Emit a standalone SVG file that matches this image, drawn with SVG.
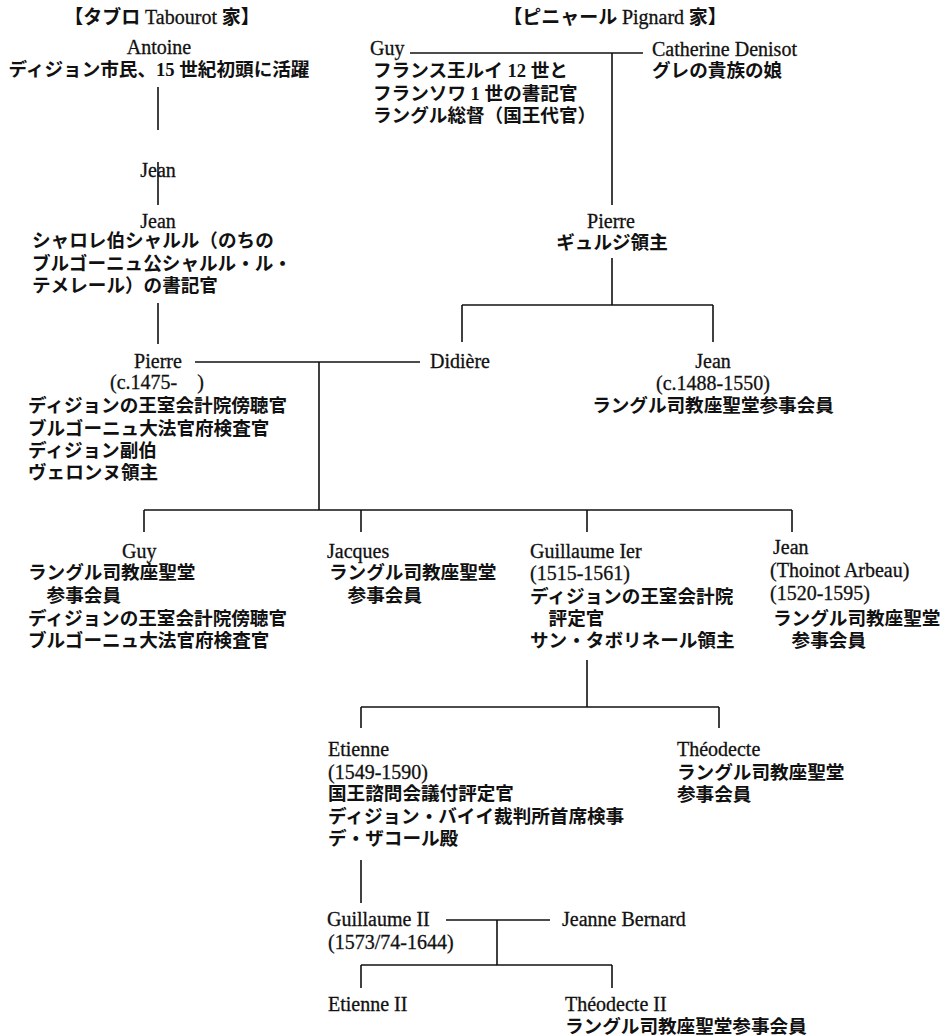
<svg xmlns="http://www.w3.org/2000/svg" width="946" height="1035" viewBox="0 0 946 1035">
<style>
text{fill:#111}
.l{font-family:"Liberation Serif","Noto Sans CJK JP",serif;font-size:20px;stroke:#111;stroke-width:0.3}
.j{font-family:"Liberation Serif","Noto Sans CJK JP",serif;font-size:18.6px;font-weight:bold}
.h{font-family:"Liberation Serif","Noto Sans CJK JP",serif;font-size:19px;font-weight:bold}
.c{text-anchor:middle}
#connectors line{stroke:#111;stroke-width:1.6;fill:none}
</style>
<rect width="946" height="1035" fill="#fff"/>
<g id="headers">
<text class="h c" x="162" y="24">【タブロ <tspan font-weight="normal" font-size="20" stroke="#111" stroke-width="0.3">Tabourot</tspan> 家】</text>
<text class="h c" x="615" y="24">【ピニャール <tspan font-weight="normal" font-size="20" stroke="#111" stroke-width="0.3">Pignard</tspan> 家】</text>
</g>
<g id="connectors">
<line x1="158" y1="87" x2="158" y2="130"/>
<line x1="158" y1="162" x2="158" y2="205"/>
<line x1="158" y1="303" x2="158" y2="344"/>
<line x1="410" y1="53" x2="643" y2="53"/>
<line x1="612" y1="53" x2="612" y2="205"/>
<line x1="612" y1="258" x2="612" y2="305"/>
<line x1="462" y1="305" x2="713" y2="305"/>
<line x1="462" y1="305" x2="462" y2="342"/>
<line x1="713" y1="305" x2="713" y2="342"/>
<line x1="195" y1="362" x2="420" y2="362"/>
<line x1="319" y1="362" x2="319" y2="510"/>
<line x1="144" y1="510" x2="792" y2="510"/>
<line x1="144" y1="510" x2="144" y2="532"/>
<line x1="361" y1="510" x2="361" y2="532"/>
<line x1="587" y1="510" x2="587" y2="532"/>
<line x1="792" y1="510" x2="792" y2="532"/>
<line x1="587" y1="660" x2="587" y2="707"/>
<line x1="361" y1="707" x2="719" y2="707"/>
<line x1="361" y1="707" x2="361" y2="728"/>
<line x1="719" y1="707" x2="719" y2="728"/>
<line x1="361" y1="860" x2="361" y2="903"/>
<line x1="446" y1="920" x2="550" y2="920"/>
<line x1="497" y1="920" x2="497" y2="965"/>
<line x1="361" y1="965" x2="612" y2="965"/>
<line x1="361" y1="965" x2="361" y2="988"/>
<line x1="612" y1="965" x2="612" y2="988"/>
</g>
<g id="antoine">
<text class="l c" x="159" y="54">Antoine</text>
<text class="j c" x="159" y="76">ディジョン市民、15 世紀初頭に活躍</text>
</g>
<g id="jean1">
<text class="l c" x="158" y="177">Jean</text>
</g>
<g id="jean2">
<text class="l c" x="158" y="228">Jean</text>
<text class="j" x="32" y="247">シャロレ伯シャルル（のちの</text>
<text class="j" x="32" y="270">ブルゴーニュ公シャルル・ル・</text>
<text class="j" x="32" y="292">テメレール）の書記官</text>
</g>
<g id="pierre-tabourot">
<text class="l c" x="158" y="368">Pierre</text>
<text class="l" x="110" y="389">(c.1475-　)</text>
<text class="j" x="28" y="412">ディジョンの王室会計院傍聴官</text>
<text class="j" x="28" y="435">ブルゴーニュ大法官府検査官</text>
<text class="j" x="28" y="457">ディジョン副伯</text>
<text class="j" x="28" y="479">ヴェロンヌ領主</text>
</g>
<g id="guy-pignard">
<text class="l" x="370" y="55">Guy</text>
<text class="j" x="373" y="77">フランス王ルイ 12 世と</text>
<text class="j" x="373" y="100">フランソワ 1 世の書記官</text>
<text class="j" x="373" y="122">ラングル総督（国王代官）</text>
</g>
<g id="catherine">
<text class="l" x="652" y="56">Catherine Denisot</text>
<text class="j" x="652" y="77">グレの貴族の娘</text>
</g>
<g id="pierre-pignard">
<text class="l c" x="611" y="228">Pierre</text>
<text class="j c" x="612" y="249">ギュルジ領主</text>
</g>
<g id="didiere">
<text class="l" x="430" y="368">Didière</text>
</g>
<g id="jean-pignard">
<text class="l c" x="713" y="368">Jean</text>
<text class="l c" x="713" y="390">(c.1488-1550)</text>
<text class="j c" x="713" y="412">ラングル司教座聖堂参事会員</text>
</g>
<g id="guy">
<text class="l" x="122" y="558">Guy</text>
<text class="j" x="28" y="579">ラングル司教座聖堂</text>
<text class="j" x="28" y="602">　参事会員</text>
<text class="j" x="28" y="625">ディジョンの王室会計院傍聴官</text>
<text class="j" x="28" y="647">ブルゴーニュ大法官府検査官</text>
</g>
<g id="jacques">
<text class="l" x="327" y="558">Jacques</text>
<text class="j" x="329" y="579">ラングル司教座聖堂</text>
<text class="j" x="329" y="602">　参事会員</text>
</g>
<g id="guillaume1">
<text class="l" x="530" y="558">Guillaume Ier</text>
<text class="l" x="530" y="580">(1515-1561)</text>
<text class="j" x="530" y="603">ディジョンの王室会計院</text>
<text class="j" x="530" y="625">　評定官</text>
<text class="j" x="530" y="647">サン・タボリネール領主</text>
</g>
<g id="jean-arbeau">
<text class="l" x="773" y="554">Jean</text>
<text class="l" x="770" y="577">(Thoinot Arbeau)</text>
<text class="l" x="770" y="600">(1520-1595)</text>
<text class="j" x="773" y="625">ラングル司教座聖堂</text>
<text class="j" x="773" y="647">　参事会員</text>
</g>
<g id="etienne">
<text class="l" x="328" y="756">Etienne</text>
<text class="l" x="328" y="779">(1549-1590)</text>
<text class="j" x="328" y="800">国王諮問会議付評定官</text>
<text class="j" x="328" y="823">ディジョン・バイイ裁判所首席検事</text>
<text class="j" x="328" y="845">デ・ザコール殿</text>
</g>
<g id="theodecte">
<text class="l" x="677" y="756">Théodecte</text>
<text class="j" x="677" y="779">ラングル司教座聖堂</text>
<text class="j" x="677" y="801">参事会員</text>
</g>
<g id="guillaume2">
<text class="l" x="327" y="926">Guillaume II</text>
<text class="l" x="328" y="949">(1573/74-1644)</text>
</g>
<g id="jeanne">
<text class="l" x="562" y="926">Jeanne Bernard</text>
</g>
<g id="etienne2">
<text class="l" x="328" y="1011">Etienne II</text>
</g>
<g id="theodecte2">
<text class="l" x="565" y="1011">Théodecte II</text>
<text class="j" x="565" y="1033">ラングル司教座聖堂参事会員</text>
</g>
</svg>
